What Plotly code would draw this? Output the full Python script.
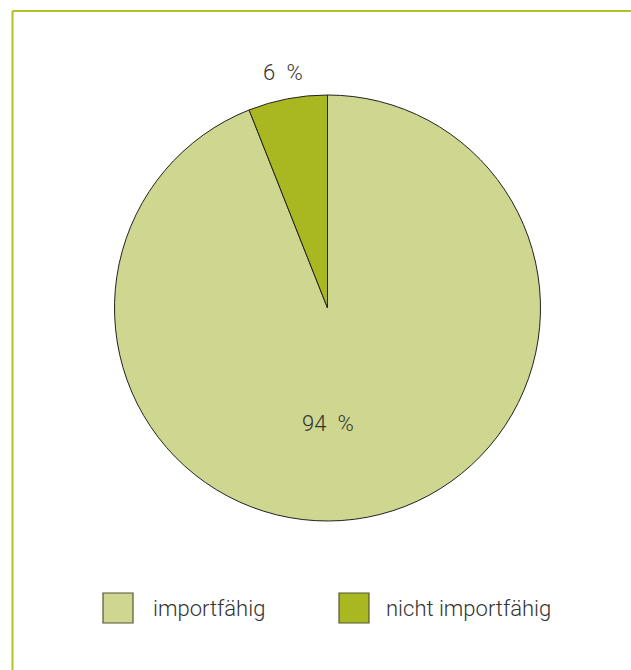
import math
import plotly.graph_objects as go

# Share of items by import capability
labels = ["importfähig", "nicht importfähig"]
values = [94, 6]
colors = ["#cfd690", "#a9b820"]

W, H = 631, 670
FONT = "Roboto"
TEXT_COLOR = "#333333"

# Pie geometry in pixels (center and radius)
cx, cy, r = 327.5, 308, 213

fig = go.Figure(
    go.Pie(
        labels=labels,
        values=values,
        marker=dict(colors=colors, line=dict(color="#222222", width=1)),
        sort=False,
        direction="clockwise",
        rotation=0,
        textinfo="none",
        hoverinfo="label+percent",
        showlegend=False,
        domain=dict(
            x=[(cx - r) / W, (cx + r) / W],
            y=[1 - (cy + r) / H, 1 - (cy - r) / H],
        ),
    )
)

# Value labels: small slices outside along the mid angle, large ones inside below center
total = sum(values)
start = 0.0
annotations = []
for i, v in enumerate(values):
    frac = v / total
    mid = start + frac / 2
    start += frac
    if frac < 0.1:
        ang = 2 * math.pi * mid
        dist = r * 1.125
        px = cx + dist * math.sin(ang)
        py = cy - dist * math.cos(ang)
    else:
        px = cx
        py = cy + r * 0.54
    annotations.append(
        dict(
            x=px / W, y=1 - py / H, xref="paper", yref="paper",
            xanchor="center", yanchor="middle",
            text=f"{v}\u2002%", showarrow=False,
            font=dict(family=FONT, size=22, color=TEXT_COLOR, weight=300),
        )
    )

# Custom legend: large swatches with outlines
shapes = []
legend_x = [103, 339]
legend_text_x = [151, 384]
legend_y = 608
sw = 30
for i, lab in enumerate(labels):
    x0 = legend_x[i]
    shapes.append(
        dict(
            type="rect", xref="paper", yref="paper",
            x0=x0 / W, x1=(x0 + sw) / W,
            y0=1 - (legend_y + sw / 2) / H, y1=1 - (legend_y - sw / 2) / H,
            fillcolor=colors[i], line=dict(color="#555533", width=1.2),
        )
    )
    annotations.append(
        dict(
            x=legend_text_x[i] / W, y=1 - legend_y / H, xref="paper", yref="paper",
            xanchor="left", yanchor="middle", text=lab, showarrow=False,
            font=dict(family=FONT, size=22, color=TEXT_COLOR, weight=300),
        )
    )

# Frame lines on top and left edges
frame_color = "#b1c225"
shapes.append(dict(type="line", xref="paper", yref="paper",
                   x0=12.5 / W, x1=1.01, y0=1 - 11 / H, y1=1 - 11 / H,
                   line=dict(color=frame_color, width=2)))
shapes.append(dict(type="line", xref="paper", yref="paper",
                   x0=12.5 / W, x1=12.5 / W, y0=-0.01, y1=1 - 11 / H,
                   line=dict(color=frame_color, width=2)))

fig.update_layout(
    width=W, height=H,
    margin=dict(l=0, r=0, t=0, b=0),
    paper_bgcolor="white",
    plot_bgcolor="white",
    annotations=annotations,
    shapes=shapes,
)

fig.write_html("out.html")
